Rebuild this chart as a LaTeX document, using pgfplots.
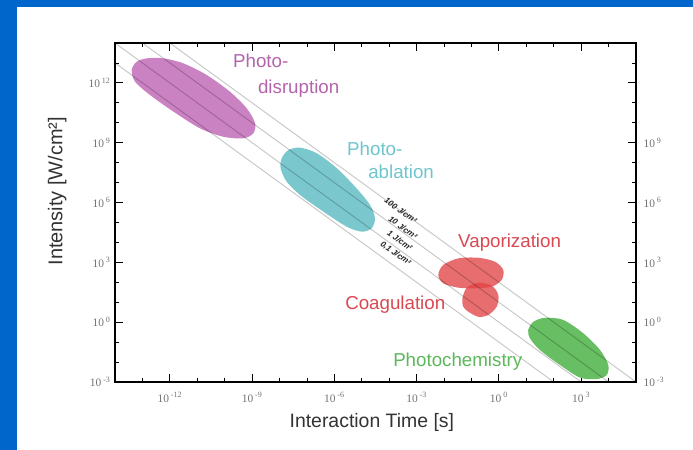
\documentclass[border=0pt]{standalone}
\usepackage{fontspec}
\setmainfont{Liberation Sans}
\newfontfamily\tickfont{Liberation Serif}
\usepackage{pgfplots}
\pgfplotsset{compat=1.18}
\definecolor{slideblue}{RGB}{0,102,204}
\definecolor{cpurple}{RGB}{203,130,195}
\definecolor{cteal}{RGB}{122,200,205}
\definecolor{cred}{RGB}{226,68,70}
\definecolor{cgreen}{RGB}{104,190,98}
\definecolor{tpurple}{RGB}{180,100,172}
\definecolor{tteal}{RGB}{110,198,204}
\definecolor{tred}{RGB}{218,72,82}
\definecolor{tgreen}{RGB}{92,184,90}
\newcommand{\tl}[1]{10\,\textsuperscript{#1}}
\begin{document}
\begin{tikzpicture}
\useasboundingbox (0,0) rectangle (693bp,450bp);
\fill[slideblue] (0,0) rectangle (693bp,450bp);
\fill[white] (17bp,0) rectangle (693bp,443bp);
\begin{axis}[
  at={(115bp,68bp)}, anchor=south west,
  scale only axis, width=521bp, height=339bp,
  xmin=-14, xmax=5, ymin=-3, ymax=14,
  clip=false,
  axis line style={line width=1.3bp, black},
  xtick={-12,-9,-6,-3,0,3},
  xticklabels={\tl{-12},\tl{-9},\tl{-6},\tl{-3},\tl{0},\tl{3}},
  minor xtick={-14,...,5},
  ytick={-3,0,3,6,9,12},
  yticklabels={\tl{-3},\tl{0},\tl{3},\tl{6},\tl{9},\tl{12}},
  minor ytick={-3,...,14},
  tick align=inside,
  major tick length=8bp, minor tick length=4bp,
  every tick/.style={black, line width=0.8bp},
  ticklabel style={font=\tickfont\fontsize{11.5}{12}\selectfont, text=black!55},
  xticklabel style={yshift=-7bp},
  yticklabel style={xshift=-1bp},
  xlabel={Interaction Time [s]},
  ylabel={Intensity [W/cm²]},
  xlabel style={font=\fontsize{19.5}{21}\selectfont, text=black!80, at={(axis description cs:0.493,-0.118)}, anchor=center},
  ylabel style={font=\fontsize{20}{21}\selectfont, text=black!80, at={(axis description cs:-0.111,0.563)}, anchor=center},
]
% Photodisruption
\addplot[draw=none, fill=cpurple, smooth cycle] coordinates {
(-13.39,12.65) (-13.21,13.06) (-12.84,13.23) (-12.24,13.23) (-11.51,12.98) (-10.66,12.40)
(-9.81,11.56) (-9.20,10.73) (-8.89,9.97) (-8.96,9.47) (-9.32,9.22) (-10.05,9.30)
(-10.90,9.72) (-11.87,10.56) (-12.72,11.39) (-13.27,12.06)};
% Photoablation
\addplot[draw=none, fill=cteal, smooth cycle] coordinates {
(-7.92,8.22) (-7.68,8.63) (-7.25,8.75) (-6.64,8.47) (-5.91,7.72) (-5.19,6.71)
(-4.70,5.88) (-4.52,5.21) (-4.64,4.71) (-5.00,4.54) (-5.55,4.79) (-6.40,5.54)
(-7.25,6.38) (-7.74,7.05) (-7.96,7.72)};
% Vaporization
\addplot[draw=none, fill=cred, fill opacity=0.78, smooth cycle] coordinates {
(-2.21,2.37) (-2.03,2.87) (-1.48,3.20) (-0.75,3.23) (-0.14,3.03) (0.16,2.62)
(0.10,2.12) (-0.26,1.78) (-0.87,1.70) (-1.48,1.73) (-2.03,1.95)};
% Coagulation
\addplot[draw=none, fill=cred, fill opacity=0.78, smooth cycle] coordinates {
(-1.33,1.20) (-1.17,1.73) (-0.75,1.98) (-0.26,1.83) (-0.02,1.36) (-0.08,0.78)
(-0.39,0.36) (-0.75,0.27) (-1.12,0.53) (-1.30,0.78)};
% Photochemistry
\addplot[draw=none, fill=cgreen, smooth cycle] coordinates {
(1.07,-0.39) (1.26,0.02) (1.68,0.22) (2.35,0.11) (3.08,-0.56) (3.69,-1.40)
(3.99,-2.15) (3.93,-2.65) (3.57,-2.85) (2.96,-2.78) (2.23,-2.15) (1.50,-1.40) (1.13,-0.81)};
% constant fluence lines
\addplot[gray!45, line width=0.9bp, blend mode=multiply] coordinates {(-12,14) (5,-3)};
\addplot[gray!45, line width=0.9bp, blend mode=multiply] coordinates {(-13,14) (4,-3)};
\addplot[gray!45, line width=0.9bp, blend mode=multiply] coordinates {(-14,14) (3,-3)};
\addplot[gray!45, line width=0.9bp, blend mode=multiply] coordinates {(-14,13) (2,-3)};
% fluence labels
\begin{scope}[every node/.style={font=\fontsize{8.3}{9}\selectfont\bfseries\itshape, rotate=-36, inner sep=0.3bp, text=black!85}]
\node at (axis cs:-3.58,5.60) {100 J/cm²};
\node at (axis cs:-3.50,4.74) {10 J/cm²};
\node at (axis cs:-3.61,4.10) {1 J/cm²};
\node at (axis cs:-3.77,3.44) {0,1 J/cm²};
\end{scope}
% region labels
\begin{scope}[every node/.style={font=\fontsize{18.8}{20}\selectfont, anchor=base west, inner sep=0}]
\node[text=tpurple] at (axis cs:-9.70,12.75) {Photo-};
\node[text=tpurple] at (axis cs:-8.79,11.49) {disruption};
\node[text=tteal] at (axis cs:-5.54,8.38) {Photo-};
\node[text=tteal] at (axis cs:-4.77,7.23) {ablation};
\node[text=tred] at (axis cs:-1.49,3.72) {Vaporization};
\node[text=tred] at (axis cs:-5.61,0.66) {Coagulation};
\node[text=tgreen] at (axis cs:-3.86,-2.20) {Photochemistry};
\end{scope}
% right axis labels
\begin{scope}[every node/.style={font=\tickfont\fontsize{11.5}{12}\selectfont, text=black!55, anchor=west}]
\node at (axis cs:5,9) [xshift=4bp] {\tl{9}};
\node at (axis cs:5,6) [xshift=4bp] {\tl{6}};
\node at (axis cs:5,3) [xshift=4bp] {\tl{3}};
\node at (axis cs:5,0) [xshift=4bp] {\tl{0}};
\node at (axis cs:5,-3) [xshift=4bp] {\tl{-3}};
\end{scope}
\end{axis}
\end{tikzpicture}
\end{document}
